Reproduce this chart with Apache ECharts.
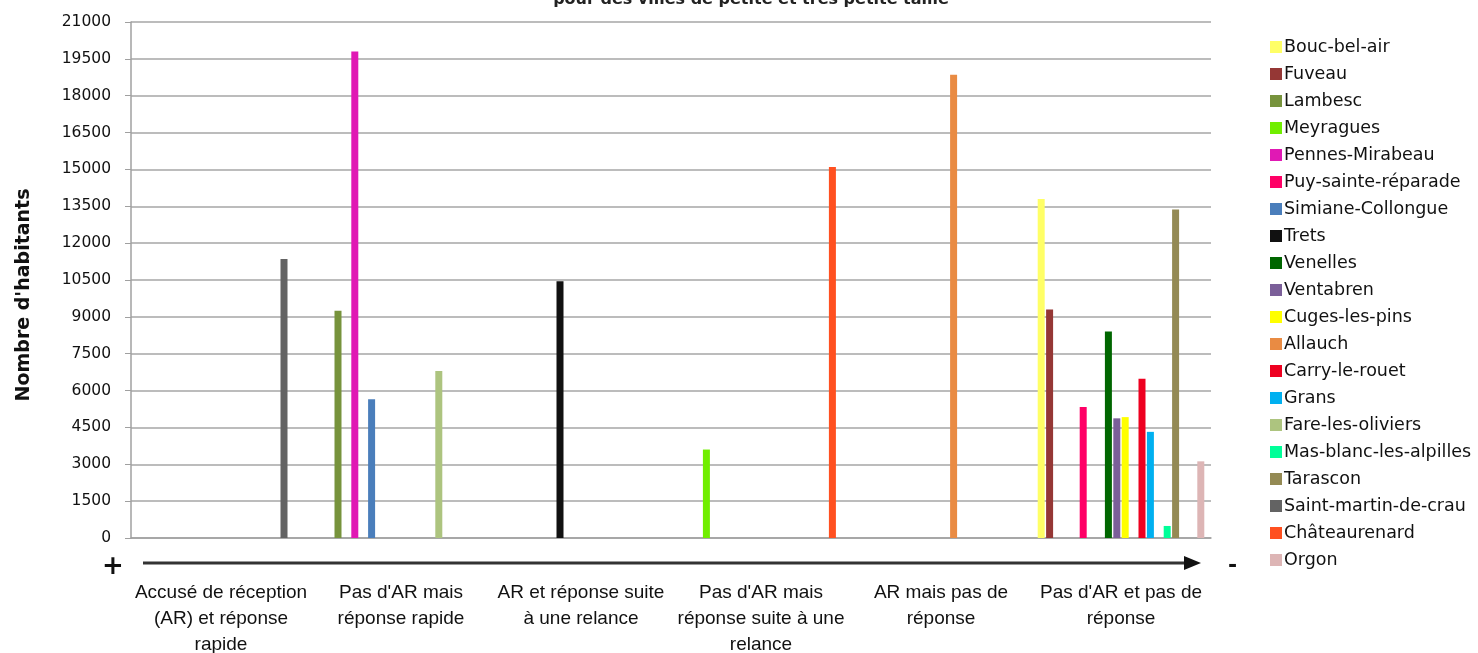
<!DOCTYPE html>
<html>
<head>
<meta charset="utf-8">
<script src="https://cdn.jsdelivr.net/npm/echarts@6/dist/echarts.min.js"></script>
<style>
  html, body { margin: 0; padding: 0; background: #fff; }
  #Chart { width: 1478px; height: 653px; }
</style>
</head>
<body>
<div id="Chart"></div>
<script>
var categories = [
    'Accusé de réception\n(AR) et réponse\nrapide',
    "Pas d'AR mais\nréponse rapide",
    'AR et réponse suite\nà une relance',
    "Pas d'AR mais\nréponse suite à une\nrelance",
    'AR mais pas de\nréponse',
    "Pas d'AR et pas de\nréponse"
];

var towns = ['Bouc-bel-air', 'Fuveau', 'Lambesc', 'Meyragues', 'Pennes-Mirabeau',
    'Puy-sainte-réparade', 'Simiane-Collongue', 'Trets', 'Venelles', 'Ventabren',
    'Cuges-les-pins', 'Allauch', 'Carry-le-rouet', 'Grans', 'Fare-les-oliviers',
    'Mas-blanc-les-alpilles', 'Tarascon', 'Saint-martin-de-crau', 'Châteaurenard', 'Orgon'];

// which category (0..5) each town falls in
var townGroup = [5, 5, 1, 3, 1, 5, 1, 2, 5, 5, 5, 4, 5, 5, 1, 5, 5, 0, 3, 5];

// population (nombre d'habitants)
var townPopulation = [13800, 9300, 9250, 3600, 19800, 5330, 5650, 10450, 8400, 4870,
    4920, 18850, 6480, 4320, 6800, 490, 13370, 11350, 15100, 3120];

var townColors = ['#FFFF66', '#953735', '#77933C', '#70EE00', '#E019B4',
    '#FF0066', '#4A7EBB', '#111111', '#006600', '#7B5F99',
    '#FFFF00', '#E98B43', '#EE0020', '#00B0F0', '#ADC47F',
    '#00FF99', '#948A54', '#636363', '#FF5020', '#DDB5B5'];

var yTicks = { min: 0, max: 21000, interval: 1500 };

var Chart = echarts.init(document.getElementById('Chart'));

var series = towns.map(function (name, i) {
    var data = categories.map(function (c, k) {
        return k === townGroup[i] ? townPopulation[i] : null;
    });
    return {
        name: name,
        type: 'bar',
        data: data,
        barWidth: 7,
        barGap: '20%',
        itemStyle: { color: townColors[i] }
    };
});

var ChartOption = {
    animation: false,
    title: {
        text: 'pour des villes de petite et très petite taille',
        left: 746,
        textAlign: 'center',
        top: -13,
        textStyle: { fontFamily: 'DejaVu Sans', fontSize: 16, fontWeight: 'bold', color: '#222' }
    },
    legend: {
        orient: 'vertical',
        left: 1265,
        top: 32,
        icon: 'rect',
        itemWidth: 12,
        itemHeight: 12,
        itemGap: 7,
        data: towns,
        textStyle: { fontFamily: 'DejaVu Sans', fontSize: 17.5, color: '#111', lineHeight: 20, padding: [0, 0, 0, -3] }
    },
    grid: { left: 131, right: 267, top: 22, bottom: 115, outerBoundsMode: 'none', containLabel: false },
    xAxis: {
        type: 'category',
        data: categories,
        axisLine: { lineStyle: { color: '#a0a0a0', width: 1.5 } },
        axisTick: { length: 7, lineStyle: { color: '#a0a0a0' } },
        axisLabel: {
            margin: 42,
            fontFamily: 'Liberation Sans',
            fontSize: 19,
            lineHeight: 26,
            color: '#111',
            interval: 0
        }
    },
    yAxis: {
        type: 'value',
        min: yTicks.min,
        max: yTicks.max,
        interval: yTicks.interval,
        name: "Nombre d'habitants",
        nameLocation: 'middle',
        nameGap: 97,
        nameTextStyle: { fontFamily: 'DejaVu Sans', fontSize: 19, fontWeight: 'bold', color: '#111', padding: [0, 30, 0, 0] },
        axisLine: { show: true, lineStyle: { color: '#a0a0a0', width: 1.5 } },
        axisTick: { show: true, length: 6, lineStyle: { color: '#a0a0a0' } },
        axisLabel: {
            margin: 20, fontFamily: 'DejaVu Sans', fontSize: 15.5, color: '#111',
            formatter: function (v) { return String(v); }
        },
        splitLine: { lineStyle: { color: '#a6a6a6', width: 1.5 } }
    },
    graphic: [
        { type: 'line', shape: { x1: 143, y1: 563, x2: 1188, y2: 563 }, style: { stroke: '#333', lineWidth: 3 } },
        { type: 'polygon', shape: { points: [[1184, 556], [1201, 563], [1184, 570]] }, style: { fill: '#111' } },
        { type: 'text', left: 102, top: 554, style: { text: '+', fontSize: 26, fontWeight: 'bold', fill: '#111', fontFamily: 'DejaVu Sans' } },
        { type: 'text', left: 1228, top: 555, style: { text: '-', fontSize: 22, fontWeight: 'bold', fill: '#111', fontFamily: 'DejaVu Sans' } }
    ],
    series: series
};

Chart.setOption(ChartOption);
window.addEventListener("resize", function () {
    Chart.resize();
});
</script>
</body>
</html>
